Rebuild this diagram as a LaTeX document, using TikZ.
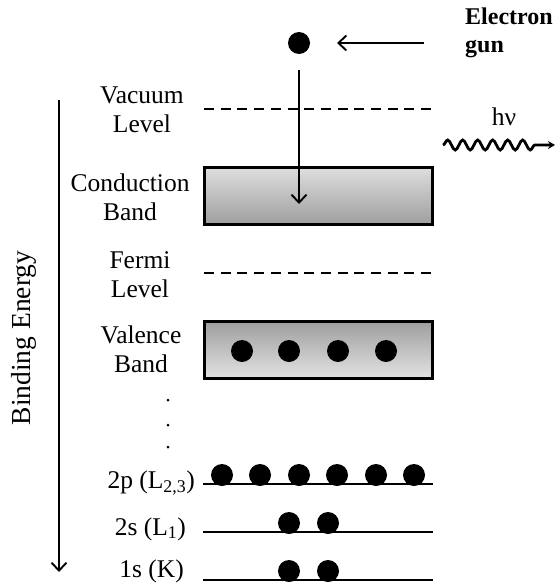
\documentclass[tikz,border=0pt]{standalone}
\usepackage{fontspec}
\setmainfont{Liberation Serif}
\usetikzlibrary{arrows.meta,decorations.pathmorphing}
\begin{document}
\begin{tikzpicture}[x=1pt,y=-1pt,
  lbl/.style={font=\fontsize{25.5}{29}\selectfont, inner sep=0pt, align=center},
  electron/.style={circle, fill=black, minimum size=22pt, inner sep=0pt},
  level/.style={line width=2pt},
  dashlevel/.style={line width=2.5pt, dash pattern=on 10pt off 6.7pt},
  band/.style={draw=black, line width=3pt, minimum width=228pt, minimum height=57pt, inner sep=0pt},
  barb/.style={-{Straight Barb[length=8pt,width=15pt,line width=1.9pt]}, line width=1.9pt},
  smalldot/.style={circle, fill=black, minimum size=3pt, inner sep=0pt}]
\useasboundingbox (0,0) rectangle (556,584);

% incoming electron
\node[electron] (e0) at (299,43) {};
\coordinate (gunstart) at (424,43);
\coordinate (gunend) at (337,43);
\draw[barb] (gunstart) -- (gunend);
\node[font=\fontsize{24}{28}\selectfont\bfseries, anchor=north west, inner sep=0pt, align=left] (gun) at (465,8) {Electron\\gun};

% vacuum level
\coordinate (vacL) at (204,109);
\coordinate (vacR) at (432,109);
\draw[dashlevel] (vacL) -- (vacR);
\node[lbl] (vac) at (142,110) {Vacuum\\Level};

% emitted photon
\node[lbl] (hv) at (504,117) {hν};
\coordinate (phA) at (443,145);
\coordinate (phB) at (555,145);
\draw[line width=2.8pt, decorate, decoration={snake, amplitude=5pt, segment length=15pt, post length=18pt},
  -{Stealth[length=7pt,width=8pt]}] (phA) -- (phB);

% conduction band
\node[band, shading=axis, top color=black!13, bottom color=black!38] (cb) at (318,196) {};
\node[lbl] (cbl) at (130,197) {Conduction\\Band};
\coordinate (drop) at (299,70);
\coordinate (hit) at (299,204);
\draw[barb] (drop) -- (hit);

% Fermi level
\coordinate (fL) at (204,273);
\coordinate (fR) at (432,273);
\draw[dashlevel] (fL) -- (fR);
\node[lbl] (fermi) at (140,275) {Fermi\\Level};

% valence band
\node[band, shading=axis, top color=black!38, bottom color=black!11] (vb) at (318,350) {};
\node[lbl] (vbl) at (141,349) {Valence\\Band};
\foreach \x [count=\i] in {242,289,338,386}
  \node[electron] (v\i) at (\x,351) {};

% ellipsis
\node[smalldot] (d1) at (168,400) {};
\node[smalldot] (d2) at (168,425) {};
\node[smalldot] (d3) at (168,447) {};

% core levels
\coordinate (p2L) at (203,484);
\coordinate (p2R) at (433,484);
\draw[level] (p2L) -- (p2R);
\foreach \x [count=\i] in {222,260,299,337,376,414}
  \node[electron] (p\i) at (\x,475) {};
\node[lbl, anchor=east] (p2l) at (195,483) {2p (L\textsubscript{2,3})};

\coordinate (s2L) at (203,532);
\coordinate (s2R) at (433,532);
\draw[level] (s2L) -- (s2R);
\node[electron] (s2a) at (289,523) {};
\node[electron] (s2b) at (328,523) {};
\node[lbl, anchor=east] (s2l) at (186,529) {2s (L\textsubscript{1})};

\coordinate (s1L) at (203,580);
\coordinate (s1R) at (433,580);
\draw[level] (s1L) -- (s1R);
\node[electron] (s1a) at (289,571) {};
\node[electron] (s1b) at (328,571) {};
\node[lbl, anchor=east] (s1l) at (184,571) {1s (K)};

% binding energy axis
\coordinate (axTop) at (59,100);
\coordinate (axBot) at (59,572);
\draw[barb] (axTop) -- (axBot);
\node[lbl, font=\fontsize{27.5}{30}\selectfont, rotate=90] (be) at (24,338) {Binding Energy};
\end{tikzpicture}
\end{document}
